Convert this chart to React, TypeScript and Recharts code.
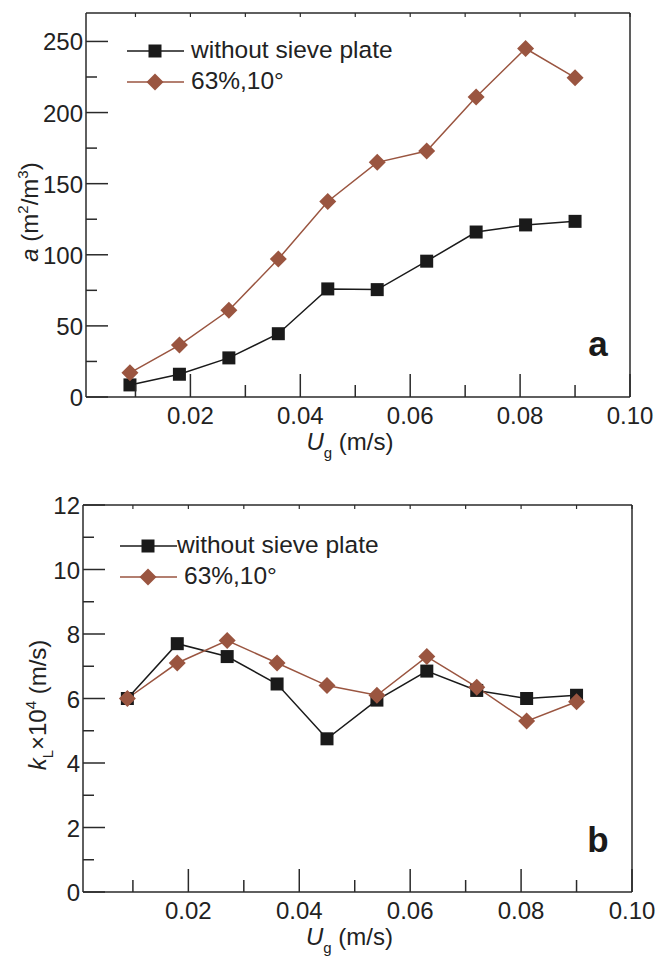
import React from "react";
import { LineChart, Line, XAxis, YAxis, Legend, Label } from "recharts";

// superficial gas velocity (m/s)
const ugValues = [0.009, 0.018, 0.027, 0.036, 0.045, 0.054, 0.063, 0.072, 0.081, 0.09];

// interfacial area a (m2/m3)
const aNoPlate = [8.5, 16, 27.5, 44.5, 76, 75.5, 95.5, 116, 121, 123.5];
const aPlate = [17, 36.5, 61, 97, 137.5, 165, 173, 211, 245, 224.5];

// kL x 10^4 (m/s)
const kNoPlate = [6.0, 7.7, 7.3, 6.45, 4.75, 5.95, 6.85, 6.25, 6.0, 6.1];
const kPlate = [6.0, 7.1, 7.8, 7.1, 6.4, 6.1, 7.3, 6.35, 5.3, 5.9];

const seriesNames = ["without sieve plate", "63%,10°"];

const xTicks = [0.01, 0.02, 0.03, 0.04, 0.05, 0.06, 0.07, 0.08, 0.09, 0.1];
const xLabels = ["0.02", "0.04", "0.06", "0.08", "0.10"];
const aTicks = [0, 25, 50, 75, 100, 125, 150, 175, 200, 225, 250];
const aLabels = [0, 50, 100, 150, 200, 250];
const kTicks = [0, 1, 2, 3, 4, 5, 6, 7, 8, 9, 10, 11, 12];
const kLabels = [0, 2, 4, 6, 8, 10, 12];

const aData = ugValues.map((ug, i) => ({ ug, noPlate: aNoPlate[i], plate: aPlate[i] }));
const kData = ugValues.map((ug, i) => ({ ug, noPlate: kNoPlate[i], plate: kPlate[i] }));

const AXIS = "#2a2a2a";
const TEXT = "#222";
const BLACK = "#1a1a1a";
const BROWN = "#9a5540";
const FONT = "'Liberation Sans', Arial, Helvetica, sans-serif";
const FS = 24;

const SquareDot = (props: any) => {
  const { cx, cy } = props;
  if (cx == null || cy == null) return null;
  return <rect x={cx - 6.5} y={cy - 6.5} width={13} height={13} fill={BLACK} />;
};

const DiamondDot = (props: any) => {
  const { cx, cy } = props;
  if (cx == null || cy == null) return null;
  const r = 8.5;
  return (
    <polygon
      points={`${cx},${cy - r} ${cx + r},${cy} ${cx},${cy + r} ${cx - r},${cy}`}
      fill={BROWN}
    />
  );
};

const bottomTick = (props: any) => {
  const { x, y, payload } = props;
  const text = Number(payload.value).toFixed(2);
  const major = xLabels.includes(text);
  return (
    <g>
      <line x1={x} y1={y} x2={x} y2={y - (major ? 23 : 12)} stroke={AXIS} strokeWidth={1.5} />
      {major && (
        <text x={x} y={y + 27} textAnchor="middle" fontSize={FS} fill={TEXT} fontFamily={FONT}>
          {text}
        </text>
      )}
    </g>
  );
};

const leftTick = (labels: number[]) => (props: any) => {
  const { x, y, payload } = props;
  const major = labels.includes(payload.value);
  return (
    <g>
      <line x1={x} y1={y} x2={x + (major ? 22 : 11)} y2={y} stroke={AXIS} strokeWidth={1.5} />
      {major && (
        <text x={x - 3} y={y + 9} textAnchor="end" fontSize={FS} fill={TEXT} fontFamily={FONT}>
          {payload.value}
        </text>
      )}
    </g>
  );
};

const topTick = (props: any) => {
  const { x, y } = props;
  return <line x1={x} y1={y} x2={x} y2={y + 4} stroke={AXIS} strokeWidth={1.2} />;
};

const rightTick = (props: any) => {
  const { x, y } = props;
  return <line x1={x} y1={y} x2={x - 4} y2={y} stroke={AXIS} strokeWidth={1.2} />;
};

const xTitle = (props: any) => {
  const { viewBox } = props;
  const cx = viewBox.x + viewBox.width / 2 - 8;
  const by = viewBox.y + 53;
  return (
    <text x={cx} y={by} textAnchor="middle" fontSize={FS} fill={TEXT} fontFamily={FONT}>
      <tspan fontStyle="italic">U</tspan>
      <tspan fontSize={15} dy={8}>g</tspan>
      <tspan dy={-8}> (m/s)</tspan>
    </text>
  );
};

const aTitle = () => (
  <text
    x={38}
    y={212}
    transform="rotate(-90 38 212)"
    textAnchor="middle"
    fontSize={FS}
    fill={TEXT}
    fontFamily={FONT}
  >
    <tspan fontStyle="italic">a</tspan>
    <tspan> (m</tspan>
    <tspan fontSize={15} dy={-10}>2</tspan>
    <tspan dy={10}>/m</tspan>
    <tspan fontSize={15} dy={-10}>3</tspan>
    <tspan dy={10}>)</tspan>
  </text>
);

const kTitle = () => (
  <text
    x={46}
    y={225}
    transform="rotate(-90 46 225)"
    textAnchor="middle"
    fontSize={FS}
    fill={TEXT}
    fontFamily={FONT}
  >
    <tspan fontStyle="italic">k</tspan>
    <tspan fontSize={15} dy={7}>L</tspan>
    <tspan dy={-7}>×10</tspan>
    <tspan fontSize={15} dy={-10}>4</tspan>
    <tspan dy={10}> (m/s)</tspan>
  </text>
);

const legendContent = (gaps: number[]) => (props: any) => {
  const items = [...(props.payload || [])].sort(
    (p: any, q: any) => seriesNames.indexOf(p.value) - seriesNames.indexOf(q.value)
  );
  return (
    <div style={{ fontFamily: FONT, fontSize: 24.5, color: TEXT }}>
      {items.map((item: any, i: number) => {
        const isPlate = item.dataKey === "plate";
        const color = isPlate ? BROWN : BLACK;
        return (
          <div key={i} style={{ display: "flex", alignItems: "center", height: 31, whiteSpace: "nowrap" }}>
            <svg width={57} height={20} style={{ display: "block" }}>
              <line x1={0} y1={10} x2={57} y2={10} stroke={color} strokeWidth={1.5} />
              {isPlate ? (
                <polygon points="28,1.5 36.5,10 28,18.5 19.5,10" fill={BROWN} />
              ) : (
                <rect x={21.5} y={3.5} width={13} height={13} fill={BLACK} />
              )}
            </svg>
            <span style={{ marginLeft: gaps[i], lineHeight: 1 }}>{item.value}</span>
          </div>
        );
      })}
    </div>
  );
};

const Panel = (props: {
  data: any[];
  top: number;
  height: number;
  leftW: number;
  rightW: number;
  topH: number;
  bottomH: number;
  yDomain: [number, number];
  yTicks: number[];
  yLabels: number[];
  yTitle: any;
  legendTop: number;
  legendLeft: number;
  gaps: number[];
  tag: string;
  tagY: number;
}) => (
  <div style={{ position: "absolute", left: 0, top: props.top, width: 656, height: props.height }}>
    <LineChart width={656} height={props.height} data={props.data} margin={{ top: 0, right: 0, bottom: 0, left: 0 }}>
      <XAxis
        xAxisId="b"
        dataKey="ug"
        type="number"
        domain={[0.001, 0.1]}
        ticks={xTicks}
        interval={0}
        height={props.bottomH}
        tickSize={0}
        tickMargin={0}
        tickLine={false}
        tick={bottomTick}
        axisLine={{ stroke: AXIS, strokeWidth: 1.5 }}
      >
        <Label content={xTitle} />
      </XAxis>
      <XAxis
        xAxisId="t"
        orientation="top"
        dataKey="ug"
        type="number"
        domain={[0.001, 0.1]}
        ticks={xTicks}
        interval={0}
        height={props.topH}
        tickSize={0}
        tickMargin={0}
        tickLine={false}
        tick={topTick}
        axisLine={{ stroke: AXIS, strokeWidth: 1.5 }}
      />
      <YAxis
        yAxisId="l"
        type="number"
        domain={props.yDomain}
        ticks={props.yTicks}
        interval={0}
        width={props.leftW}
        tickSize={0}
        tickMargin={0}
        tickLine={false}
        tick={leftTick(props.yLabels)}
        axisLine={{ stroke: AXIS, strokeWidth: 1.5 }}
      >
        <Label content={props.yTitle} />
      </YAxis>
      <YAxis
        yAxisId="r"
        orientation="right"
        type="number"
        domain={props.yDomain}
        ticks={props.yTicks}
        interval={0}
        width={props.rightW}
        tickSize={0}
        tickMargin={0}
        tickLine={false}
        tick={rightTick}
        axisLine={{ stroke: AXIS, strokeWidth: 1.5 }}
      />
      <Legend
        layout="vertical"
        align="center"
        verticalAlign="middle"
        content={legendContent(props.gaps)}
        wrapperStyle={{ position: "absolute", top: props.legendTop, left: props.legendLeft, width: "auto" }}
      />
      <Line
        xAxisId="b"
        yAxisId="l"
        dataKey="noPlate"
        name={seriesNames[0]}
        stroke={BLACK}
        strokeWidth={1.5}
        dot={<SquareDot />}
        activeDot={false}
        isAnimationActive={false}
      />
      <Line
        xAxisId="b"
        yAxisId="l"
        dataKey="plate"
        name={seriesNames[1]}
        stroke={BROWN}
        strokeWidth={1.5}
        dot={<DiamondDot />}
        activeDot={false}
        isAnimationActive={false}
      />
    </LineChart>
    <svg width={656} height={props.height} style={{ position: "absolute", left: 0, top: 0, pointerEvents: "none" }}>
      <text x={598} y={props.tagY} textAnchor="middle" fontSize={35} fontWeight="bold" fill={BLACK} fontFamily={FONT}>
        {props.tag}
      </text>
    </svg>
  </div>
);

export default function App() {
  return (
    <div style={{ position: "absolute", left: 0, top: 0, width: 656, height: 956, background: "#fff" }}>
      <Panel
        data={aData}
        top={0}
        height={480}
        leftW={86}
        rightW={26}
        topH={13}
        bottomH={83}
        yDomain={[0, 270]}
        yTicks={aTicks}
        yLabels={aLabels}
        yTitle={aTitle}
        legendTop={35}
        legendLeft={127}
        gaps={[7, 7]}
        tag="a"
        tagY={356}
      />
      <Panel
        data={kData}
        top={480}
        height={476}
        leftW={83}
        rightW={24}
        topH={25}
        bottomH={64}
        yDomain={[0, 12]}
        yTicks={kTicks}
        yLabels={kLabels}
        yTitle={kTitle}
        legendTop={50}
        legendLeft={120}
        gaps={[0, 7]}
        tag="b"
        tagY={372}
      />
    </div>
  );
}
